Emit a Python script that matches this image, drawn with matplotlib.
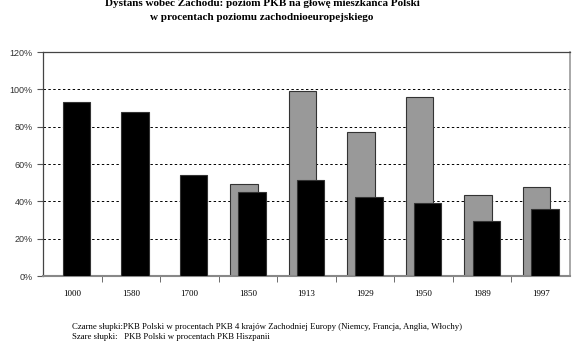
import matplotlib.pyplot as plt
import numpy as np

years = ["1000", "1580", "1700", "1850", "1913", "1929", "1950", "1989", "1997"]
# black bars: Poland vs 4 Western European countries (%)
black = [93.4, 88.0, 54.0, 45.2, 51.4, 42.5, 38.9, 29.6, 35.7]
# gray bars: Poland vs Spain (%), None where missing
gray = [None, None, None, 49.1, 99.1, 77.0, 95.7, 43.4, 47.5]

plt.rcParams['font.family'] = ['Liberation Serif', 'DejaVu Serif']

fig = plt.figure(figsize=(5.8, 3.59), dpi=100)
ax = fig.add_axes([43/580, 1-276/359, 527/580, 224/359])

x = np.arange(len(years))
w = 0.47
gx = [xi - 0.07 for xi, g in zip(x, gray) if g is not None]
gv = [g for g in gray if g is not None]
ax.bar(gx, gv, width=w, color='#999999', edgecolor='#333333', linewidth=0.8, zorder=2)
ax.bar(x + 0.07, black, width=w, color='black', edgecolor='#333333', linewidth=0.8, zorder=3)

ax.set_xlim(-0.5, len(years) - 0.5)
ax.set_ylim(0, 120)
ax.set_yticks(range(0, 121, 20))
ax.set_yticklabels([f"{v}%" for v in range(0, 121, 20)], family='Liberation Sans', fontsize=6.5, color='#333333')
for v in range(20, 101, 20):
    ax.axhline(v, color='black', linestyle=(0, (2.5, 2.5)), linewidth=0.7, zorder=1)

ax.set_xticks(x)
ax.set_xticklabels(years, fontsize=6.5)
ax.tick_params(axis='x', length=0, pad=10)
ax.set_xticks(np.arange(0.5, len(years) - 0.5, 1), minor=True)
ax.tick_params(axis='x', which='minor', length=4, direction='out', color='#555555')
ax.tick_params(axis='y', length=4, direction='out', color='#555555')

for s in ['left', 'bottom', 'top']:
    ax.spines[s].set_color('#444444')
    ax.spines[s].set_linewidth(0.9)
ax.spines['bottom'].set_color('#888888')
ax.spines['bottom'].set_linewidth(1.5)
ax.spines['right'].set_color('#999999')
ax.spines['right'].set_linewidth(1.2)

fig.text(262/580, 1 - 3/359, "Dystans wobec Zachodu: poziom PKB na głowę mieszkańca Polski",
         ha='center', va='center', fontsize=8, fontweight='bold')
fig.text(262/580, 1 - 17/359, "w procentach poziomu zachodnioeuropejskiego",
         ha='center', va='center', fontsize=8, fontweight='bold')

fig.text(72/580, 1 - 327/359,
         "Czarne słupki:PKB Polski w procentach PKB 4 krajów Zachodniej Europy (Niemcy, Francja, Anglia, Włochy)",
         ha='left', va='center', fontsize=6.3)
fig.text(72/580, 1 - 337/359, "Szare słupki:   PKB Polski w procentach PKB Hiszpanii",
         ha='left', va='center', fontsize=6.3)

fig.savefig("out.png", dpi=100)
